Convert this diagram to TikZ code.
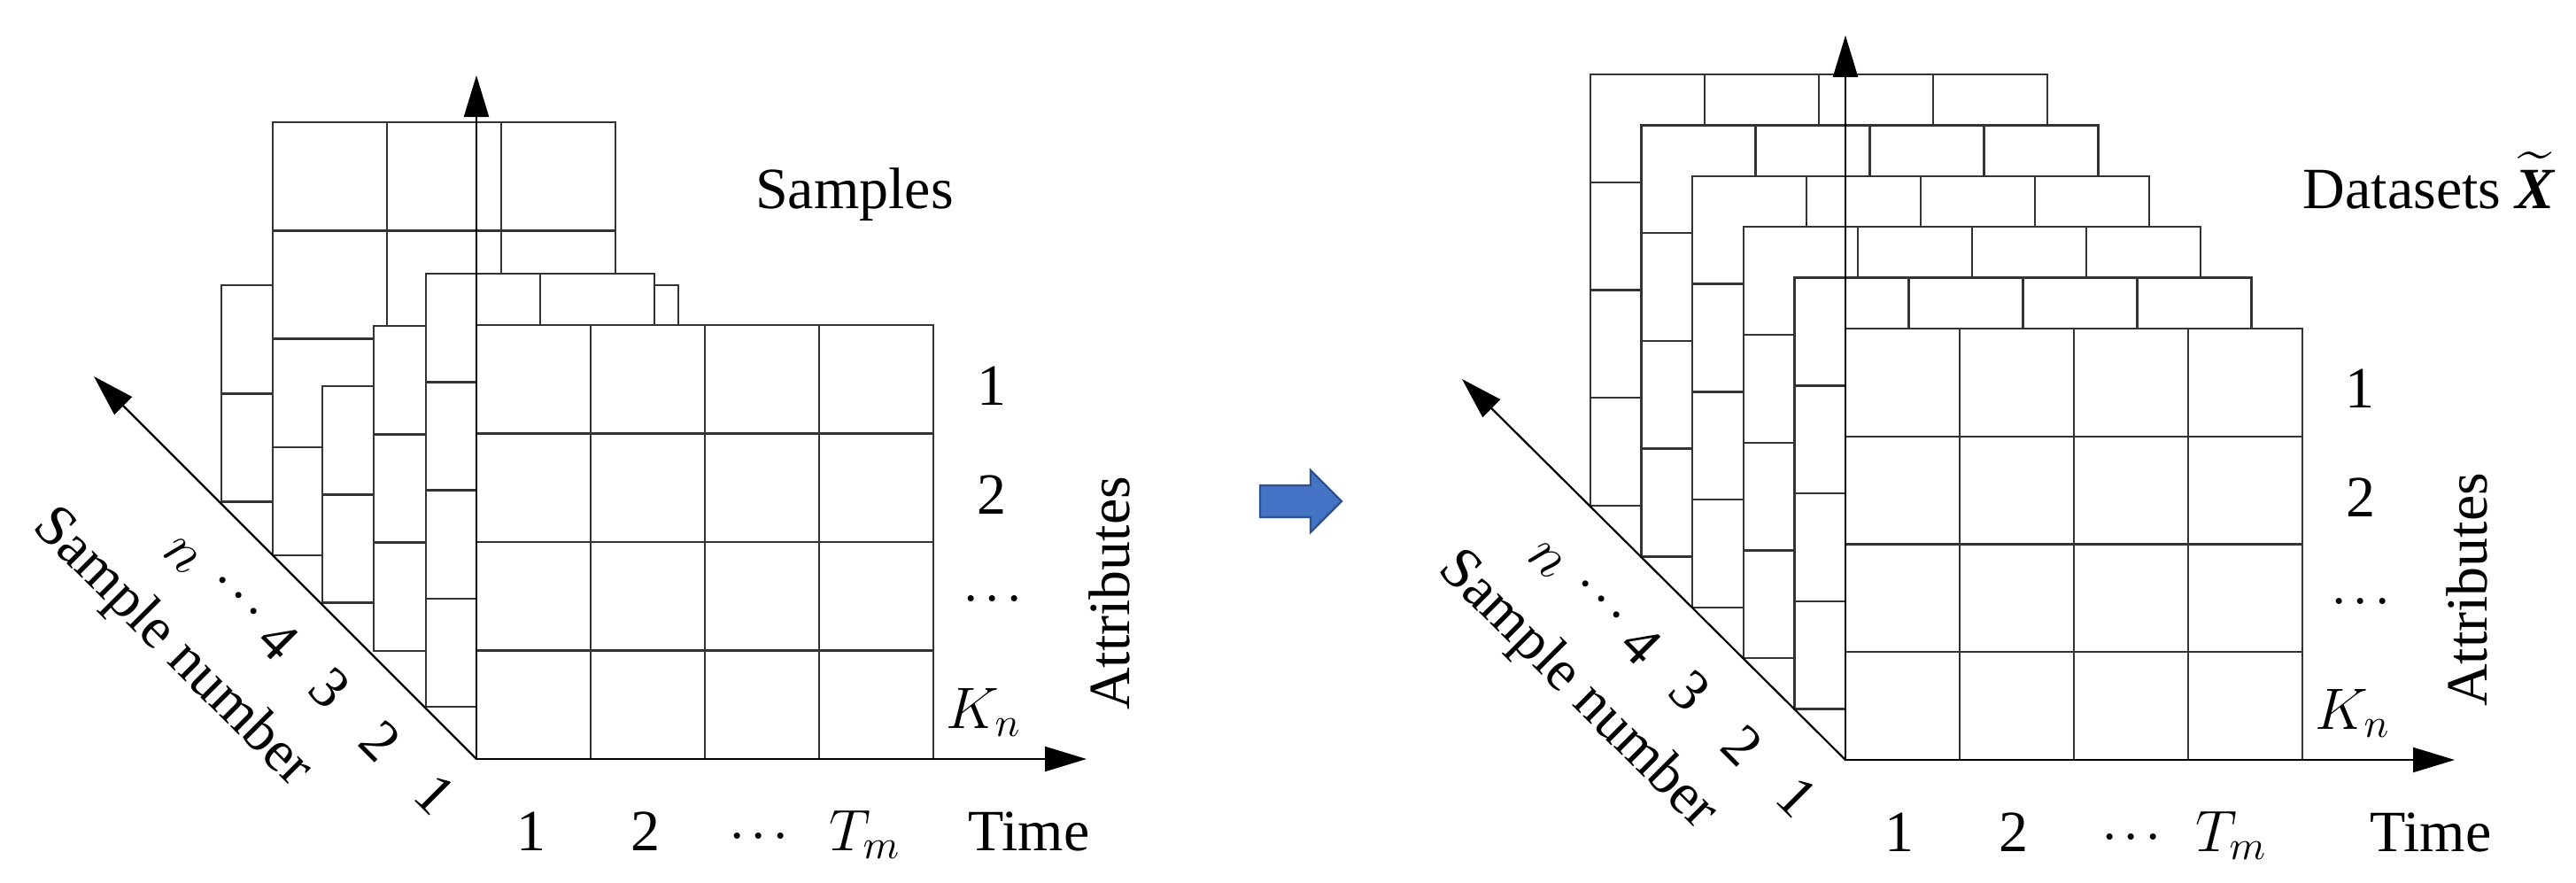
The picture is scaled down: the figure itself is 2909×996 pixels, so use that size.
\documentclass[tikz,border=0pt]{standalone}
\usepackage{fix-cm}
\usepackage{amsmath}
\usepackage{fontspec}
\setmainfont{Liberation Serif}
\usetikzlibrary{arrows.meta}
\definecolor{arrowblue}{HTML}{4472C4}
\definecolor{arrowedge}{HTML}{2F528F}
\newcommand{\tdots}{\ensuremath{\mathinner{\cdotp\mkern-1.3mu\cdotp\mkern-1.3mu\cdotp}}}
\tikzset{
  gl/.style={draw=black!80, line width=0.6pt},
  axis/.style={draw=black, line width=0.55pt, -{Triangle[length=11.75pt,width=7pt]}},
  lbl/.style={font=\fontsize{16.5}{19}\selectfont, inner sep=0pt},
  blockarrow/.style={fill=arrowblue, draw=arrowedge, line width=0.6pt, line join=miter},
}
% left, top, ncols, nrows, cell height (cell width 129)
\newcommand{\gridlayer}[5]{%
  \fill[white] (#1,#2) rectangle ++({#3*129},{#4*#5});
  \foreach \ii in {1,...,#3}{\draw[gl] ({#1+\ii*129},#2) -- ++(0,{#4*#5});}
  \foreach \jj in {1,...,#4}{\draw[gl] (#1,{#2+\jj*#5}) -- ++({#3*129},0);}
  \draw[gl] (#1,#2) rectangle ++({#3*129},{#4*#5});
}
\begin{document}
\begin{tikzpicture}[x=0.25pt,y=-0.25pt]
\useasboundingbox (0,0) rectangle (2909,996);

% ---------------- left panel: samples ----------------
\gridlayer{250}{322}{4}{2}{122.3}
\gridlayer{308}{138}{3}{4}{122.3}
\gridlayer{364}{436}{4}{2}{122.3}
\gridlayer{422}{368}{4}{3}{122.3}
\gridlayer{481}{309}{2}{4}{122.3}
\gridlayer{538}{367}{4}{4}{122.5}

\coordinate (LO) at (538,857);
\coordinate (LV) at (538,85);
\coordinate (LH) at (1227,857);
\coordinate (LD) at (106,425);
\draw[axis] (LO) -- (LV);
\draw[axis] (LO) -- (LH);
\draw[axis] (LO) -- (LD);

\node[lbl, anchor=base] (Lsamples) at (965,235) {Samples};
\node[lbl, anchor=base] (La1) at (1120,457) {1};
\node[lbl, anchor=base] (La2) at (1120,580) {2};
\node[lbl, anchor=base] (La3) at (1121,692) {\tdots};
\node[lbl, anchor=base] (La4) at (1111,822) {$K_n$};
\node[lbl, rotate=90] (Lattr) at (1253,670) {Attributes};
\node[lbl, anchor=base] (Lt1) at (600,960) {1};
\node[lbl, anchor=base] (Lt2) at (729,960) {2};
\node[lbl, anchor=base] (Lt3) at (857,960) {\tdots};
\node[lbl, anchor=base] (Lt4) at (977,960) {$T_m$};
\node[lbl, anchor=base] (Ltime) at (1162,960) {Time};
\node[lbl, rotate=-45] (Ls1) at (492,897) {1};
\node[lbl, rotate=-45] (Ls2) at (430,837) {2};
\node[lbl, rotate=-45] (Ls3) at (372,777) {3};
\node[lbl, rotate=-45] (Ls4) at (315,723) {4};
\node[lbl, rotate=-45] (Ls5) at (268,674) {\tdots};
\node[lbl, rotate=-45] (Lsn) at (205,628) {$n$};
\node[lbl, rotate=-45] (Lsnum) at (194,732) {Sample number};

% ---------------- transition arrow ----------------
\filldraw[blockarrow] (1423,548) -- (1480,548) -- (1480,531) -- (1515,566)
  -- (1480,601) -- (1480,584) -- (1423,584) -- cycle;

% ---------------- right panel: datasets ----------------
\foreach \k in {5,4,3,2,1}{
  \pgfmathsetmacro\lx{2084-57.6*\k}
  \pgfmathsetmacro\ty{371-57.4*\k}
  \gridlayer{\lx}{\ty}{4}{4}{121.75}
}
\gridlayer{2084}{371}{4}{4}{121.75}

\coordinate (RO) at (2084,858);
\coordinate (RV) at (2084,40);
\coordinate (RH) at (2772,858);
\coordinate (RD) at (1651,428);
\draw[axis] (RO) -- (RV);
\draw[axis] (RO) -- (RH);
\draw[axis] (RO) -- (RD);

\node[lbl, anchor=base west] (Rdata) at (2600,235)
  {Datasets $\widetilde{\text{\bfseries\itshape X}}$};
\node[lbl, anchor=base] (Ra1) at (2665,460) {1};
\node[lbl, anchor=base] (Ra2) at (2666,583) {2};
\node[lbl, anchor=base] (Ra3) at (2666,695) {\tdots};
\node[lbl, anchor=base] (Ra4) at (2657,823) {$K_n$};
\node[lbl, rotate=90] (Rattr) at (2786,666) {Attributes};
\node[lbl, anchor=base] (Rt1) at (2145,961) {1};
\node[lbl, anchor=base] (Rt2) at (2274,961) {2};
\node[lbl, anchor=base] (Rt3) at (2407,961) {\tdots};
\node[lbl, anchor=base] (Rt4) at (2520,961) {$T_m$};
\node[lbl, anchor=base] (Rtime) at (2745,961) {Time};
\node[lbl, rotate=-45] (Rs1) at (2030,900) {1};
\node[lbl, rotate=-45] (Rs2) at (1968,842) {2};
\node[lbl, rotate=-45] (Rs3) at (1908,780) {3};
\node[lbl, rotate=-45] (Rs4) at (1853,728) {4};
\node[lbl, rotate=-45] (Rs5) at (1807,678) {\tdots};
\node[lbl, rotate=-45] (Rsn) at (1746,633) {$n$};
\node[lbl, rotate=-45] (Rsnum) at (1781,780) {Sample number};
\end{tikzpicture}
\end{document}
